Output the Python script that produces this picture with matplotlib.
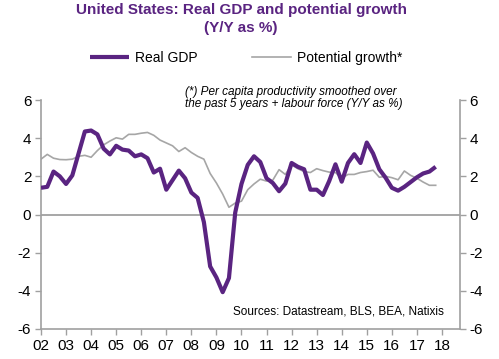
import numpy as np
import matplotlib.pyplot as plt

plt.rcParams['font.family'] = ['Liberation Sans', 'DejaVu Sans']
plt.rcParams['axes.unicode_minus'] = False

# --- Datos trimestrales (2002T1 - 2017T4) ---
years = np.arange(2002, 2018)
quarters = np.array([y + q / 4 for y in years for q in range(4)])

real_gdp = [
    1.4, 1.45, 2.25, 2.0,
    1.6, 2.05, 3.2, 4.35,
    4.4, 4.2, 3.45, 3.15,
    3.6, 3.4, 3.35, 3.05,
    3.15, 2.95, 2.2, 2.4,
    1.3, 1.8, 2.3, 1.9,
    1.15, 0.87, -0.4, -2.72,
    -3.3, -4.07, -3.33, 0.1,
    1.6, 2.6, 3.05, 2.75,
    1.9, 1.65, 1.22, 1.62,
    2.7, 2.5, 2.37, 1.3,
    1.3, 1.02, 1.75, 2.63,
    1.72, 2.7, 3.16, 2.7,
    3.77, 3.2, 2.37, 1.93,
    1.4, 1.25, 1.45, 1.7,
    1.95, 2.15, 2.25, 2.5,
]

potential = [
    2.9, 3.15, 2.95, 2.88,
    2.87, 2.9, 3.05, 3.1,
    3.0, 3.35, 3.65, 3.85,
    4.02, 3.95, 4.2, 4.2,
    4.26, 4.3, 4.15, 3.9,
    3.75, 3.6, 3.3, 3.5,
    3.25, 3.05, 2.9, 2.15,
    1.65, 1.07, 0.38, 0.6,
    0.7, 1.3, 1.6, 1.85,
    1.75, 1.8, 2.35, 2.1,
    2.6, 2.4, 2.25, 2.2,
    2.4, 2.3, 2.22, 2.2,
    1.9, 2.1, 2.1, 2.2,
    2.25, 2.32, 1.95, 2.0,
    1.93, 1.82, 2.28, 2.05,
    1.9, 1.7, 1.53, 1.53,
]

xtick_labels = ['%02d' % (y % 100) for y in range(2002, 2019)]

purple = '#5a2481'
grey = '#a6a6a6'
axis_grey = '#a0a0a0'

fig = plt.figure(figsize=(4.99, 3.59), dpi=100)
ax = fig.add_axes([41 / 499, 1 - 329 / 359, (460 - 41) / 499, (329 - 100) / 359])

ax.axhline(0, color=axis_grey, linewidth=1.3, zorder=1)
ax.plot(quarters, potential, color=grey, linewidth=1.2, label='Potential growth*', zorder=2)
ax.plot(quarters, real_gdp, color=purple, linewidth=3.0, label='Real GDP', zorder=3,
        solid_capstyle='butt')

ax.set_xlim(2002, 2018.72)
ax.set_ylim(-6, 6)
ax.set_yticks(np.arange(-6, 7, 2))
ax.set_xticks(np.arange(2002, 2019))
ax.set_xticklabels(xtick_labels)

ax2 = ax.twinx()
ax2.set_ylim(-6, 6)
ax2.set_yticks(np.arange(-6, 7, 2))

for a in (ax, ax2):
    a.spines['top'].set_visible(False)
    for s in ('left', 'right', 'bottom'):
        a.spines[s].set_color(axis_grey)
        a.spines[s].set_linewidth(1.2)
    a.tick_params(which='both', direction='out', length=4, width=1.0,
                  color=axis_grey, labelsize=11, pad=3)
ax.spines['right'].set_visible(False)
ax2.spines['left'].set_visible(False)
ax2.spines['bottom'].set_visible(False)

# --- Título y leyenda ---
fig.text(0.483, 1 - 19 / 359, 'United States: Real GDP and potential growth\n(Y/Y as %)',
         ha='center', va='center', fontsize=11, fontweight='bold', color=purple,
         linespacing=1.3)

h, l = ax.get_legend_handles_labels()
fig.legend(h[::-1], l[::-1], loc='center', bbox_to_anchor=(0.494, 1 - 58 / 359), ncol=2,
           frameon=False, fontsize=10, handlelength=2.8, handletextpad=0.45,
           columnspacing=3.9)

fig.text(185 / 499, 1 - 86 / 359,
         '(*) Per capita productivity smoothed over\nthe past 5 years + labour force (Y/Y as %)',
         ha='left', va='top', fontsize=8.5, style='italic', linespacing=1.05)
fig.text(444 / 499, 1 - 312 / 359, 'Sources: Datastream, BLS, BEA, Natixis',
         ha='right', va='center', fontsize=8.5)

fig.savefig('out.png', dpi=100)
